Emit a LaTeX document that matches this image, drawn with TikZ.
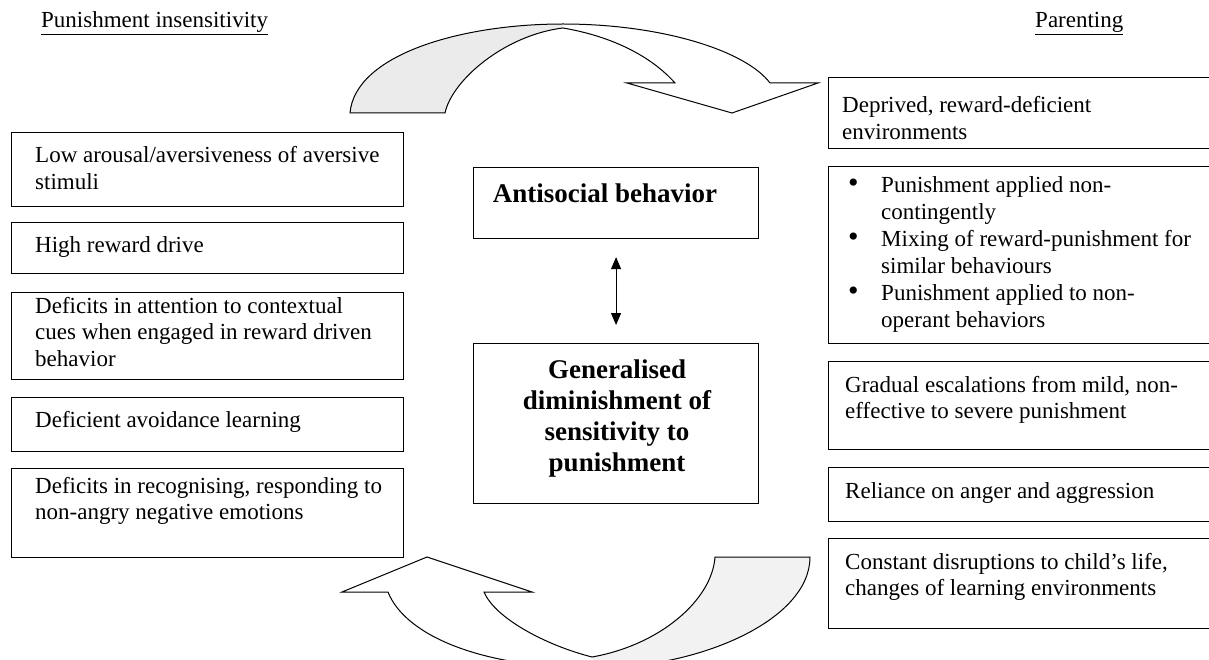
\documentclass[tikz,border=0pt]{standalone}
\usepackage{fontspec}
\setmainfont{Liberation Serif}
\usetikzlibrary{arrows.meta}
\newcommand{\bigbul}{\makebox[33pt][l]{\raisebox{0.5pt}{\fontsize{30}{30}\selectfont\textbullet}}}
\begin{document}
\begin{tikzpicture}[x=1pt,y=-1pt,
  box/.style={draw,line width=1.1pt,rectangle,inner sep=0pt,anchor=north west},
  txt/.style={inner sep=0pt,anchor=base west,font=\fontsize{23}{26.9}\selectfont},
  btxt/.style={inner sep=0pt,anchor=base,font=\fontsize{27}{31.3}\selectfont\bfseries},
  bigarrow/.style={draw,line width=1pt,line join=miter},
  shade/.style={fill=gray!16}]
\useasboundingbox (0,0) rectangle (1209,660);
\clip (0,0) rectangle (1209,660);

% headers
\node[txt] (hl) at (41,28) {\underline{Punishment insensitivity}};
\node[txt] (hr) at (1035,28) {\underline{Parenting}};

% top curved arrow
\fill[shade] (350,113) .. controls (355,55) and (460,24) .. (563,24)
  -- (563,28) .. controls (505,35) and (452,80) .. (445,113) -- cycle;
\draw[bigarrow] (350,113) .. controls (355,55) and (460,24) .. (563,24)
  .. controls (660,24) and (745,50) .. (770,83)
  -- (818,83) -- (732,113) -- (627,83) -- (675,83)
  .. controls (650,55) and (610,36) .. (563,28)
  .. controls (505,35) and (452,80) .. (445,113) -- cycle;

% bottom curved arrow
\fill[shade,fill=gray!10] (715,557) -- (810,557)
  .. controls (810,620) and (700,668) .. (595,668)
  -- (592,657) .. controls (660,645) and (712,600) .. (715,557) -- cycle;
\draw[bigarrow] (342,592) -- (427,557) -- (532,592) -- (484,592)
  .. controls (495,618) and (545,645) .. (592,657)
  .. controls (660,645) and (712,600) .. (715,557)
  -- (810,557)
  .. controls (810,620) and (700,668) .. (595,668)
  .. controls (480,668) and (405,635) .. (388,592) -- cycle;

% left boxes
\node[box,minimum width=392pt,minimum height=74pt] (l1) at (11,132) {};
\node[box,minimum width=392pt,minimum height=51pt] (l2) at (11,222) {};
\node[box,minimum width=392pt,minimum height=87pt] (l3) at (11,292) {};
\node[box,minimum width=392pt,minimum height=54pt] (l4) at (11,397) {};
\node[box,minimum width=392pt,minimum height=89pt] (l5) at (11,468) {};
\node[txt] (l1t) at (35,163) {\parbox[t]{380pt}{\raggedright Low arousal/aversiveness of aversive\\stimuli}};
\node[txt] (l2t) at (35,252) {High reward drive};
\node[txt] (l3t) at (35,313) {\parbox[t]{380pt}{\raggedright Deficits in attention to contextual\\cues when engaged in reward driven\\behavior}};
\node[txt] (l4t) at (35,427) {Deficient avoidance learning};
\node[txt] (l5t) at (35,493) {\parbox[t]{380pt}{\raggedright Deficits in recognising, responding to\\non-angry negative emotions}};

% right boxes
\node[box,minimum width=390pt,minimum height=71pt] (r1) at (828,77) {};
\node[box,minimum width=390pt,minimum height=177pt] (r2) at (828,166) {};
\node[box,minimum width=390pt,minimum height=88pt] (r3) at (828,361) {};
\node[box,minimum width=390pt,minimum height=54pt] (r4) at (828,467) {};
\node[box,minimum width=390pt,minimum height=90pt] (r5) at (828,538) {};
\node[txt] (r1t) at (842,113) {\parbox[t]{360pt}{\raggedright Deprived, reward-deficient\\environments}};
\node[txt] (r2t) at (848,193) {\parbox[t]{360pt}{\raggedright
  \bigbul Punishment applied non-\\
  \hspace*{33pt}contingently\\
  \bigbul Mixing of reward-punishment for\\
  \hspace*{33pt}similar behaviours\\
  \bigbul Punishment applied to non-\\
  \hspace*{33pt}operant behaviors}};
\node[txt] (r3t) at (845,392) {\parbox[t]{360pt}{\raggedright Gradual escalations from mild, non-\\effective to severe punishment}};
\node[txt] (r4t) at (845,498) {Reliance on anger and aggression};
\node[txt] (r5t) at (845,569) {\parbox[t]{360pt}{\raggedright Constant disruptions to child’s life,\\changes of learning environments}};

% centre boxes
\node[box,minimum width=285pt,minimum height=71pt] (a) at (473,167) {};
\node[box,minimum width=285pt,minimum height=160pt] (g) at (473,343) {};
\node[btxt] (at) at (605,203) {Antisocial behavior};
\node[btxt] (gt) at (617,378) {\parbox[t]{280pt}{\centering Generalised\\diminishment of\\sensitivity to\\punishment}};

\draw[line width=1pt,{Triangle[length=12pt,width=10pt]}-{Triangle[length=12pt,width=10pt]},
  shorten <=18pt,shorten >=18pt] (a.south) -- (g.north);
\end{tikzpicture}
\end{document}
